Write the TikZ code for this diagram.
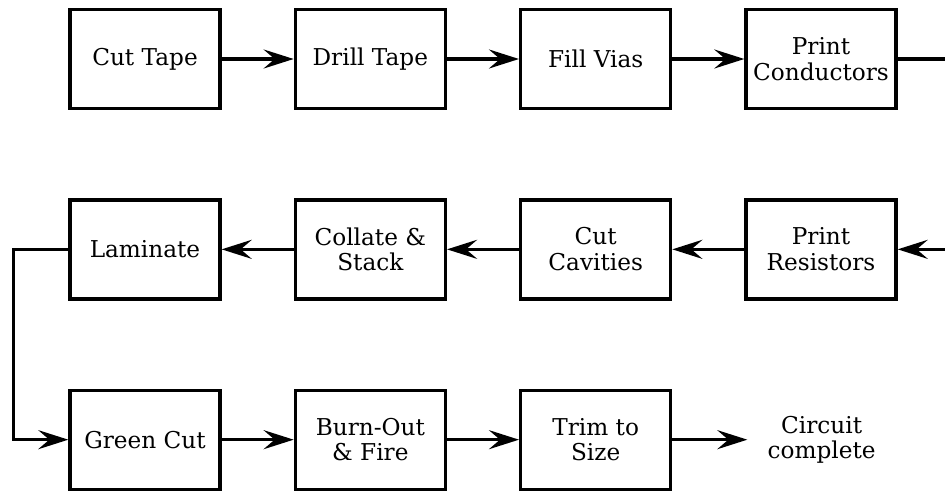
\documentclass[tikz,border=0pt]{standalone}
\usepackage{fontspec}
\setmainfont{DejaVu Serif}
\usepackage{tikz}
\usetikzlibrary{arrows.meta,positioning}

\begin{document}
\begin{tikzpicture}[
  font=\fontsize{13.2}{14.6}\selectfont,
  blk/.style={draw,line width=1.9pt,align=center,minimum width=30mm,minimum height=19.8mm,inner sep=2pt},
  flow/.style={line width=1.9pt},
  node distance=17.6mm and 14.4mm,
  >={Stealth[length=6mm,width=3.8mm,inset=2.2mm]}]
  \useasboundingbox (0,0) rectangle (18.9,9.8);
  \node[blk] (cut) at (2.9,8.62) {Cut Tape};
  \node[blk,right=of cut] (drill) {Drill Tape};
  \node[blk,right=of drill] (vias) {Fill Vias};
  \node[blk,right=of vias] (cond) {Print\\Conductors};
  \node[blk,below=of cut] (lam) {Laminate};
  \node[blk,right=of lam] (stack) {Collate \&\\Stack};
  \node[blk,right=of stack] (cav) {Cut\\Cavities};
  \node[blk,right=of cav] (res) {Print\\Resistors};
  \node[blk,below=of lam] (green) {Green Cut};
  \node[blk,right=of green] (fire) {Burn-Out\\\& Fire};
  \node[blk,right=of fire] (trim) {Trim to\\Size};
  \node[align=center,inner xsep=0pt,right=19mm of trim] (done) {Circuit\\complete};
  \coordinate[right=12mm of cond.east] (wrapout);
  \coordinate[right=12mm of res.east] (wrapin);
  \draw[flow,->] (cut) -- (drill);
  \draw[flow,->] (drill) -- (vias);
  \draw[flow,->] (vias) -- (cond);
  \draw[flow] (cond) -- (wrapout);
  \draw[flow,->] (wrapin) -- (res);
  \draw[flow,->] (res) -- (cav);
  \draw[flow,->] (cav) -- (stack);
  \draw[flow,->] (stack) -- (lam);
  \draw[flow,->] (lam.west) -- ++(-11mm,0) |- (green.west);
  \draw[flow,->] (green) -- (fire);
  \draw[flow,->] (fire) -- (trim);
  \draw[flow,->,shorten >=4mm] (trim) -- (done);
\end{tikzpicture}
\end{document}
